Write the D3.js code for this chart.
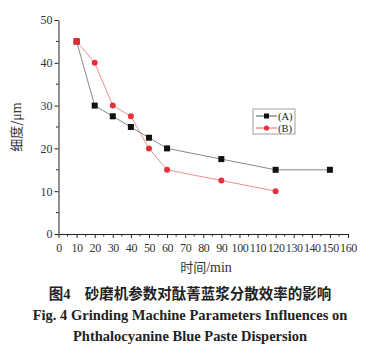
<!DOCTYPE html>
<html><head><meta charset="utf-8">
<script src="https://cdn.jsdelivr.net/npm/d3@7"></script>
<style>body{margin:0;background:#fff}svg{display:block}</style>
</head><body>
<svg id="c" width="387" height="355"></svg>
<script>
const timesA = [10, 20, 30, 40, 50, 60, 90, 120, 150];
const valuesA = [45, 30, 27.5, 25, 22.5, 20, 17.5, 15, 15];
const timesB = [10, 20, 30, 40, 50, 60, 90, 120];
const valuesB = [45, 40, 30, 27.5, 20, 15, 12.5, 10];
const xTicks = [0,10,20,30,40,50,60,70,80,90,100,110,120,130,140,150,160];
const yTicks = [0,10,20,30,40,50];
const seriesNames = ["(A)", "(B)"];

const svg = d3.select("#c");
const x = d3.scaleLinear().domain([0,160]).range([58.5,348]);
const y = d3.scaleLinear().domain([0,50]).range([234,20]);
const serif = "'Liberation Serif','Times New Roman',serif";
const cjk = "'Noto Sans CJK SC',sans-serif";

const minorX = d3.range(5,160,10);
const minorY = d3.range(5,50,10);
svg.append("g").selectAll("line").data(minorX).join("line")
  .attr("x1",d=>x(d)).attr("x2",d=>x(d)).attr("y1",y(0)).attr("y2",y(0)+2.5)
  .attr("stroke","#222").attr("stroke-width",1);
svg.append("g").selectAll("line").data(minorY).join("line")
  .attr("y1",d=>y(d)).attr("y2",d=>y(d)).attr("x1",x(0)).attr("x2",x(0)-2.5)
  .attr("stroke","#222").attr("stroke-width",1);

const xa = svg.append("g").attr("transform",`translate(0,${y(0)})`)
  .call(d3.axisBottom(x).tickValues(xTicks).tickSize(4).tickSizeOuter(0).tickPadding(5));
const ya = svg.append("g").attr("transform",`translate(${x(0)},0)`)
  .call(d3.axisLeft(y).tickValues(yTicks).tickSize(4).tickSizeOuter(0).tickPadding(2));
[xa,ya].forEach(a=>{
  a.selectAll("path,line").attr("stroke","#222").attr("stroke-width",1);
  a.selectAll("text").attr("font-family",serif).attr("font-size",12).attr("fill","#333");
});
xa.selectAll("text").attr("letter-spacing",-0.4);

const line = d3.line().x(d=>x(d[0])).y(d=>y(d[1]));
const dA = timesA.map((t,i)=>[t,valuesA[i]]);
const dB = timesB.map((t,i)=>[t,valuesB[i]]);

svg.append("path").datum(dB).attr("d",line).attr("fill","none").attr("stroke","#f09090").attr("stroke-width",1);
svg.append("path").datum(dA).attr("d",line).attr("fill","none").attr("stroke","#888").attr("stroke-width",1);
svg.append("g").selectAll("rect").data(dA).join("rect")
  .attr("x",d=>x(d[0])-3).attr("y",d=>y(d[1])-3).attr("width",6).attr("height",6).attr("fill","#111");
svg.append("g").selectAll("circle").data(dB).join("circle")
  .attr("cx",d=>x(d[0])).attr("cy",d=>y(d[1])).attr("r",3).attr("fill","#e8303a");
svg.append("rect").attr("x",x(dA[0][0])-3).attr("y",y(dA[0][1])-3).attr("width",6).attr("height",6).attr("fill","#e02a34");

// legend
const lg = svg.append("g");
lg.append("rect").attr("x",253).attr("y",109).attr("width",42).attr("height",25)
  .attr("fill","none").attr("stroke","#888").attr("stroke-width",0.8);
seriesNames.forEach((n,i)=>{
  const yy = 116 + i*12;
  lg.append("line").attr("x1",256).attr("x2",277).attr("y1",yy).attr("y2",yy)
    .attr("stroke", i===0 ? "#555" : "#e8606a").attr("stroke-width",1);
  if(i===0) lg.append("rect").attr("x",264).attr("y",yy-2.5).attr("width",5).attr("height",5).attr("fill","#111");
  else lg.append("circle").attr("cx",266.5).attr("cy",yy).attr("r",2.6).attr("fill","#e8303a");
  lg.append("text").attr("x",278).attr("y",yy+3.5).text(n)
    .attr("font-family",serif).attr("font-size",10.5).attr("fill","#222");
});

svg.append("text").attr("transform","translate(21,127) rotate(-90)").attr("text-anchor","middle")
  .attr("font-family",cjk).attr("font-size",13).attr("fill","#333")
  .html('细度/<tspan font-family="Liberation Serif" font-size="14">μm</tspan>');
svg.append("text").attr("x",206).attr("y",272).attr("text-anchor","middle")
  .attr("font-family",cjk).attr("font-size",13).attr("fill","#333")
  .html('时间<tspan font-family="Liberation Serif" font-size="14">/min</tspan>');

svg.append("text").attr("x",190).attr("y",299).attr("text-anchor","middle")
  .attr("font-family",cjk).attr("font-weight","bold").attr("font-size",14.5).attr("fill","#222")
  .html('图<tspan font-family="Liberation Serif">4</tspan>　砂磨机参数对酞菁蓝浆分散效率的影响');
svg.append("text").attr("x",190).attr("y",320).attr("text-anchor","middle")
  .attr("font-family",serif).attr("font-weight","bold").attr("font-size",14.5).attr("fill","#222")
  .text("Fig. 4 Grinding Machine Parameters Influences on");
svg.append("text").attr("x",190).attr("y",341).attr("text-anchor","middle")
  .attr("font-family",serif).attr("font-weight","bold").attr("font-size",14.5).attr("fill","#222")
  .text("Phthalocyanine Blue Paste Dispersion");
</script>
</body></html>
